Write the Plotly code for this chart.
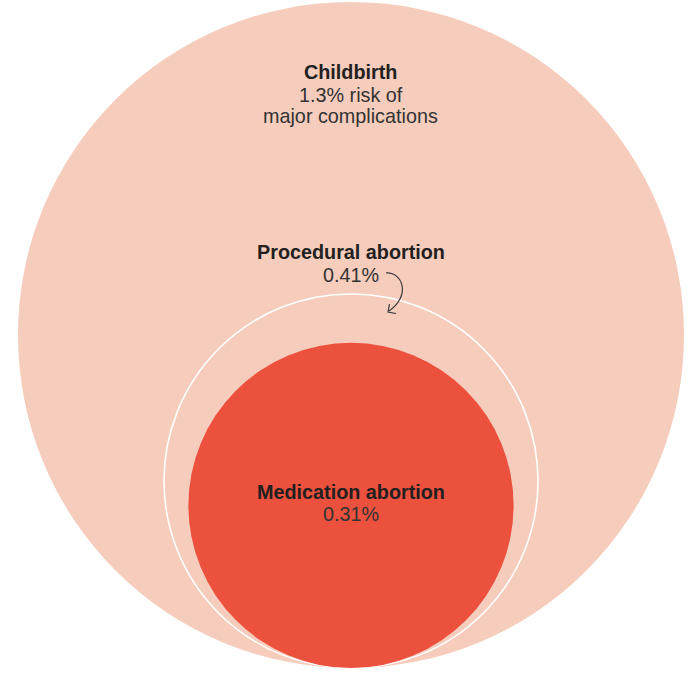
import math
import plotly.graph_objects as go

# Data
categories = ["Childbirth", "Procedural abortion", "Medication abortion"]
risk_pct = [1.3, 0.41, 0.31]
value_labels = [["1.3% risk of", "major complications"], ["0.41%"], ["0.31%"]]

W, H = 690, 674
PEACH = "#F6CDBC"
RED = "#EC513D"
TEXT = "#231F20"
FONT = "Liberation Sans, Arial, Helvetica, sans-serif"

# geometry: area-proportional circles, bottom aligned
R_MAX = 333
CX = 351
BOTTOM = 668
radii = [R_MAX * math.sqrt(v / max(risk_pct)) for v in risk_pct]

fills = [PEACH, PEACH, RED]
lines = [dict(width=0), dict(color="white", width=1.6), dict(width=0)]

fig = go.Figure()
shapes = []
for r, f, ln in zip(radii, fills, lines):
    shapes.append(dict(type="circle", xref="x", yref="y",
                       x0=CX - r, x1=CX + r, y0=BOTTOM - 2 * r, y1=BOTTOM,
                       fillcolor=f, line=ln, layer="below"))

# curved arrow for procedural label
shapes.append(dict(type="path", xref="x", yref="y",
                   path="M 386 273 C 403 272, 411 296, 389 311",
                   line=dict(color="#3a3a3a", width=1.2)))
shapes.append(dict(type="path", xref="x", yref="y",
                   path="M 389.5 304 L 388 312 L 396 313.5",
                   line=dict(color="#3a3a3a", width=1.2)))

# invisible trace to keep axes
fig.add_trace(go.Scatter(x=[CX], y=[BOTTOM - radii[0]], mode="markers",
                         marker=dict(opacity=0), hoverinfo="skip", showlegend=False))

annotations = []
label_y = [(72, [95, 116]), (252, [275]), (492, [514])]
for cat, vls, (yb, yvs) in zip(categories, value_labels, label_y):
    annotations.append(dict(x=350.5, y=yb, xref="x", yref="y", text="<b>" + cat + "</b>",
                            showarrow=False, xanchor="center", yanchor="middle",
                            font=dict(family=FONT, size=19.8, color=TEXT)))
    for vl, yv in zip(vls, yvs):
        annotations.append(dict(x=350.5, y=yv, xref="x", yref="y", text=vl,
                                showarrow=False, xanchor="center", yanchor="middle",
                                font=dict(family=FONT, size=19.8, color="#333333")))

fig.update_layout(
    width=W, height=H,
    margin=dict(l=0, r=0, t=0, b=0),
    paper_bgcolor="white", plot_bgcolor="white",
    xaxis=dict(range=[0, W], visible=False, fixedrange=True),
    yaxis=dict(range=[H, 0], visible=False, fixedrange=True),
    shapes=shapes, annotations=annotations, showlegend=False,
)

fig.write_html("out.html", config={"displayModeBar": False, "staticPlot": True})

# remove default body margin so the figure sits at the page origin
with open("out.html", "r", encoding="utf-8") as fh:
    html = fh.read()
html = html.replace("<body>", '<body style="margin:0;padding:0;overflow:hidden">', 1)
with open("out.html", "w", encoding="utf-8") as fh:
    fh.write(html)
